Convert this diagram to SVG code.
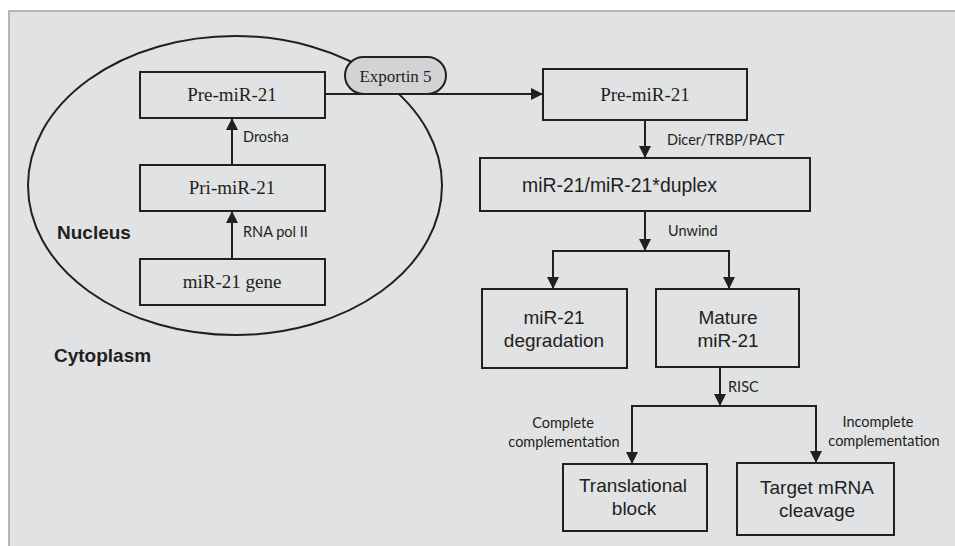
<svg xmlns="http://www.w3.org/2000/svg" width="955" height="546" viewBox="0 0 955 546">
<style>
.box{fill:none;stroke:#231f20;stroke-width:2}
.ln{fill:none;stroke:#231f20;stroke-width:2}
.tnr{font-family:"Liberation Serif",serif;font-size:19px;fill:#231f20;text-anchor:middle}
.ar{font-family:"Liberation Sans",Arial,sans-serif;font-size:19px;fill:#231f20;text-anchor:middle}
.lb{font-family:"Lato","Open Sans",sans-serif;font-size:14.5px;fill:#231f20}
.bd{font-family:"Liberation Sans",Arial,sans-serif;font-size:19px;font-weight:bold;fill:#231f20}
</style>
<defs>
<marker id="ah" viewBox="0 0 10 10" refX="10" refY="5" markerWidth="12" markerHeight="12" markerUnits="userSpaceOnUse" orient="auto">
<path d="M0,0 L10,5 L0,10 z" fill="#231f20"/>
</marker>
</defs>
<rect x="0" y="0" width="955" height="546" fill="#ffffff"/>
<rect x="9" y="11" width="960" height="560" fill="#e1e2e4" stroke="#b4b5b8" stroke-width="2"/>
<g id="nucleus">
<ellipse cx="235" cy="185.5" rx="207" ry="149.5" fill="none" stroke="#231f20" stroke-width="2"/>
<text class="bd" x="57" y="239">Nucleus</text>
</g>
<text class="bd" x="54" y="362">Cytoplasm</text>
<g id="connectors">
<line class="ln" x1="232" y1="165" x2="232" y2="118" marker-end="url(#ah)"/>
<line class="ln" x1="232" y1="259" x2="232" y2="211" marker-end="url(#ah)"/>
<line class="ln" x1="325" y1="94" x2="543" y2="94" marker-end="url(#ah)"/>
<line class="ln" x1="645" y1="120" x2="645" y2="158" marker-end="url(#ah)"/>
<line class="ln" x1="645" y1="211" x2="645" y2="251" marker-end="url(#ah)"/>
<polyline class="ln" points="553,252 553,251 729,251 729,252"/>
<line class="ln" x1="553" y1="250" x2="553" y2="289" marker-end="url(#ah)"/>
<line class="ln" x1="729" y1="250" x2="729" y2="289" marker-end="url(#ah)"/>
<line class="ln" x1="720" y1="367" x2="720" y2="406" marker-end="url(#ah)"/>
<polyline class="ln" points="632,406 816,406"/>
<line class="ln" x1="632" y1="405" x2="632" y2="464" marker-end="url(#ah)"/>
<line class="ln" x1="816" y1="405" x2="816" y2="463" marker-end="url(#ah)"/>
<text class="lb" x="243" y="142">Drosha</text>
<text class="lb" x="243" y="237">RNA pol II</text>
<text class="lb" x="667" y="145">Dicer/TRBP/PACT</text>
<text class="lb" x="668" y="236">Unwind</text>
<text class="lb" x="728" y="392">RISC</text>
<text class="lb" x="563" y="428" text-anchor="middle">Complete</text>
<text class="lb" x="564" y="447" text-anchor="middle">complementation</text>
<text class="lb" x="878" y="427" text-anchor="middle">Incomplete</text>
<text class="lb" x="884" y="446" text-anchor="middle">complementation</text>
</g>
<g id="exportin">
<rect x="345" y="57" width="101" height="37" rx="18.5" fill="#d2d3d5" stroke="#231f20" stroke-width="2"/>
<text class="tnr" x="395.5" y="82" style="font-size:17px">Exportin 5</text>
</g>
<g id="pre-nuc">
<rect class="box" x="140" y="72" width="185" height="46"/>
<text class="tnr" x="232" y="101">Pre-miR-21</text>
</g>
<g id="pri">
<rect class="box" x="140" y="165" width="185" height="46"/>
<text class="tnr" x="232" y="194">Pri-miR-21</text>
</g>
<g id="gene">
<rect class="box" x="140" y="259" width="185" height="46"/>
<text class="tnr" x="232" y="288">miR-21 gene</text>
</g>
<g id="pre-cyt">
<rect class="box" x="543" y="69" width="204" height="51"/>
<text class="tnr" x="645" y="101">Pre-miR-21</text>
</g>
<g id="duplex">
<rect class="box" x="480" y="158" width="330" height="53"/>
<text class="ar" x="522" y="192" style="text-anchor:start;font-size:19.4px">miR-21/miR-21*duplex</text>
</g>
<g id="degradation">
<rect class="box" x="482" y="289" width="145" height="79"/>
<text class="ar" x="554" y="324">miR-21</text>
<text class="ar" x="554" y="347">degradation</text>
</g>
<g id="mature">
<rect class="box" x="656" y="289" width="143" height="78"/>
<text class="ar" x="728" y="324">Mature</text>
<text class="ar" x="728" y="347">miR-21</text>
</g>
<g id="translational">
<rect class="box" x="563" y="464" width="144" height="67"/>
<text class="ar" x="633" y="492">Translational</text>
<text class="ar" x="634" y="515">block</text>
</g>
<g id="cleavage">
<rect class="box" x="737" y="463" width="157" height="72"/>
<text class="ar" x="817" y="494">Target mRNA</text>
<text class="ar" x="817" y="517">cleavage</text>
</g>
</svg>
